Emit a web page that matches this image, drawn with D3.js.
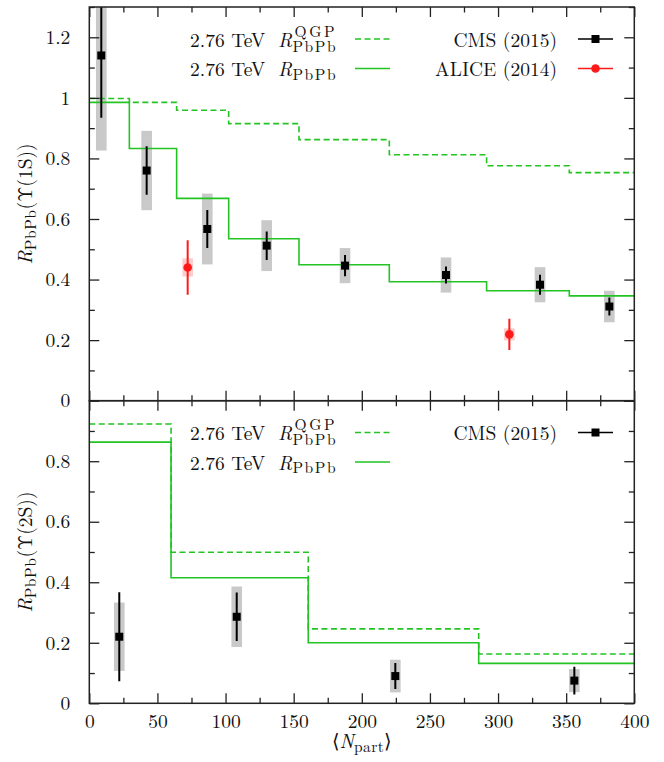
<!DOCTYPE html>
<html>
<head>
<meta charset="utf-8">
<script src="https://cdn.jsdelivr.net/npm/d3@7"></script>
<style>
body { margin: 0; background: #fff; }
</style>
</head>
<body>
<div id="chart"></div>
<script>
// ---- data ----
var xMajor = [0, 50, 100, 150, 200, 250, 300, 350, 400];
var xMinor = [25, 75, 125, 175, 225, 275, 325, 375];

// Upsilon(1S)
var edges1S = [0, 29.4, 64.1, 102.3, 153.9, 220.2, 291.6, 352.3, 400];
var rQGP1S = [0.998, 0.985, 0.959, 0.915, 0.862, 0.812, 0.776, 0.753];
var rAA1S = [0.985, 0.833, 0.668, 0.535, 0.449, 0.393, 0.363, 0.346];

var cmsNpart1S = [8.8, 42.1, 86.6, 130.2, 187.7, 261.8, 330.8, 381.7];
var cmsR1S = [1.140, 0.760, 0.567, 0.512, 0.446, 0.415, 0.383, 0.311];
var cmsStat1S = [0.206, 0.080, 0.063, 0.047, 0.035, 0.028, 0.033, 0.030];
var cmsSys1S = [0.314, 0.131, 0.117, 0.084, 0.058, 0.058, 0.058, 0.052];

var aliceNpart1S = [72.2, 308.3];
var aliceR1S = [0.440, 0.219];
var aliceStat1S = [0.090, 0.052];
var aliceSys1S = [0.030, 0.020];

// Upsilon(2S)
var edges2S = [0, 60, 160.7, 285.8, 400];
var rQGP2S = [0.923, 0.499, 0.246, 0.163];
var rAA2S = [0.863, 0.415, 0.200, 0.132];

var cmsNpart2S = [22.0, 108.2, 224.6, 356.0];
var cmsR2S = [0.220, 0.286, 0.090, 0.075];
var cmsStat2S = [0.147, 0.080, 0.043, 0.046];
var cmsSys2S = [0.113, 0.100, 0.054, 0.038];

var yMajor1S = [0, 0.2, 0.4, 0.6, 0.8, 1, 1.2];
var yMinor1S = [0.1, 0.3, 0.5, 0.7, 0.9, 1.1, 1.3];
var yMajor2S = [0, 0.2, 0.4, 0.6, 0.8, 1];
var yMinor2S = [0.1, 0.3, 0.5, 0.7, 0.9];

// ---- layout ----
var FONT = "'Latin Modern Roman', 'Liberation Serif', 'DejaVu Serif', serif";
var FS = 19.5, SS = 15.5;
var green = "#22c322";
var left = 89.3, right = 634.3;

var svg = d3.select("#chart")
    .append("svg")
        .attr("width", 664)
        .attr("height", 762)
        .style("font-family", FONT);

var x = d3.scaleLinear().domain([0, 400]).range([left, right]);
var yTop = d3.scaleLinear().domain([0, 1.3]).range([400.7, 7]);
var yBot = d3.scaleLinear().domain([0, 1]).range([703.3, 400.7]);

function steps(edges, vals) {
    return edges.map(function(e, i) { return [e, vals[Math.min(i, vals.length - 1)]]; });
}

function txt(g, xx, yy, size) {
    return g.append("text")
        .attr("x", xx).attr("y", yy)
        .style("font-family", FONT)
        .style("font-size", size + "px")
        .style("fill", "#111");
}

function drawPanel(id, y, cfg) {
    var g = svg.append("g").attr("class", id);

    svg.append("clipPath").attr("id", "clip-" + id)
        .append("rect")
        .attr("x", left).attr("y", y.range()[1])
        .attr("width", right - left).attr("height", y.range()[0] - y.range()[1]);

    var plot = g.append("g").attr("clip-path", "url(#clip-" + id + ")");

    // systematic boxes
    cfg.sets.forEach(function(s) {
        plot.append("g").selectAll("rect")
            .data(s.npart)
            .enter()
            .append("rect")
            .attr("x", function(d) { return x(d - 3.9); })
            .attr("width", function(d) { return x(d + 3.9) - x(d - 3.9); })
            .attr("y", function(d, i) { return y(s.r[i] + s.sys[i]); })
            .attr("height", function(d, i) { return y(s.r[i] - s.sys[i]) - y(s.r[i] + s.sys[i]); })
            .attr("fill", s.box);
    });

    var line = d3.line()
        .curve(d3.curveStepAfter)
        .x(function(d) { return x(d[0]); })
        .y(function(d) { return y(d[1]); });

    plot.append("path")
        .datum(steps(cfg.edges, cfg.qgp))
        .attr("fill", "none")
        .attr("stroke", green)
        .attr("stroke-width", 1.6)
        .attr("stroke-dasharray", "6,3.5")
        .attr("d", line);

    plot.append("path")
        .datum(steps(cfg.edges, cfg.raa))
        .attr("fill", "none")
        .attr("stroke", green)
        .attr("stroke-width", 1.6)
        .attr("d", line);

    // stat bars + markers
    cfg.sets.forEach(function(s) {
        var pg = plot.append("g");
        pg.selectAll("line")
            .data(s.npart)
            .enter()
            .append("line")
            .attr("x1", function(d) { return x(d); })
            .attr("x2", function(d) { return x(d); })
            .attr("y1", function(d, i) { return y(s.r[i] + s.stat[i]); })
            .attr("y2", function(d, i) { return y(s.r[i] - s.stat[i]); })
            .attr("stroke", s.color)
            .attr("stroke-width", 2);
        if (s.shape == "square") {
            pg.selectAll("rect")
                .data(s.npart)
                .enter()
                .append("rect")
                .attr("x", function(d) { return x(d) - 4; })
                .attr("y", function(d, i) { return y(s.r[i]) - 4; })
                .attr("width", 8).attr("height", 8)
                .attr("fill", s.color);
        } else {
            pg.selectAll("circle")
                .data(s.npart)
                .enter()
                .append("circle")
                .attr("cx", function(d) { return x(d); })
                .attr("cy", function(d, i) { return y(s.r[i]); })
                .attr("r", 4.3)
                .attr("fill", s.color);
        }
    });

    // ticks (inward, mirrored)
    var y0 = y.range()[0], y1 = y.range()[1];
    function tickAxis(axis, tr, size, vals, labels, pad) {
        var a = g.append("g")
            .attr("transform", tr)
            .call(axis.tickValues(vals).tickSize(size).tickPadding(pad || 3)
                .tickFormat(labels ? d3.format("~g") : ""));
        a.select(".domain").remove();
        a.selectAll("line").attr("stroke", "#222").attr("stroke-width", 1.3);
        a.selectAll("text")
            .style("font-family", FONT)
            .style("font-size", FS + "px")
            .style("fill", "#111");
        return a;
    }
    tickAxis(d3.axisBottom(x), "translate(0," + y0 + ")", -10, xMajor, cfg.xLabels, 10.5);
    tickAxis(d3.axisBottom(x), "translate(0," + y0 + ")", -5.5, xMinor, false);
    tickAxis(d3.axisTop(x), "translate(0," + y1 + ")", -10, xMajor, false);
    tickAxis(d3.axisTop(x), "translate(0," + y1 + ")", -5.5, xMinor, false);
    tickAxis(d3.axisLeft(y), "translate(" + left + ",0)", -10, cfg.yMajor.filter(function(v) { return v <= cfg.yLabelMax; }), true, 19);
    tickAxis(d3.axisLeft(y), "translate(" + left + ",0)", -5.5, cfg.yMinor, false);
    tickAxis(d3.axisRight(y), "translate(" + right + ",0)", -10, cfg.yMajor, false);
    tickAxis(d3.axisRight(y), "translate(" + right + ",0)", -5.5, cfg.yMinor, false);

    g.append("rect")
        .attr("x", left).attr("y", y1)
        .attr("width", right - left).attr("height", y0 - y1)
        .attr("fill", "none")
        .attr("stroke", "#222")
        .attr("stroke-width", 1.5);

    // y axis title
    var yt = txt(g, 0, 0, FS)
        .attr("transform", "translate(32," + ((y0 + y1) / 2) + ") rotate(-90)")
        .attr("text-anchor", "middle");
    yt.append("tspan").style("font-style", "italic").text("R");
    yt.append("tspan").style("font-size", SS + "px").style("letter-spacing", "0.6px").attr("dy", 4).text("PbPb");
    yt.append("tspan").attr("dy", -4).text("(\u03A5(" + cfg.state + "))");

    // legend
    var lg = g.append("g");
    cfg.legend.forEach(function(row) {
        txt(lg, 190, row.base, FS).text("2.76 TeV");
        txt(lg, 278, row.base, FS).style("font-style", "italic").text("R");
        if (row.sup) {
            txt(lg, 294.5, row.base - 10, SS)
                .attr("textLength", 40).attr("lengthAdjust", "spacing").text(row.sup);
        }
        txt(lg, 292.5, row.base + (row.sup ? 5 : 3.5), SS)
            .attr("textLength", 43).attr("lengthAdjust", "spacing").text("PbPb");
        lg.append("line")
            .attr("x1", 355).attr("x2", 390)
            .attr("y1", row.base - 7.5).attr("y2", row.base - 7.5)
            .attr("stroke", green).attr("stroke-width", 1.6)
            .attr("stroke-dasharray", row.dash ? "6,3.5" : null);
    });
    cfg.sets.forEach(function(s, i) {
        var base = cfg.legend[i].base;
        txt(lg, 557, base, FS).attr("text-anchor", "end").text(s.name);
        lg.append("line")
            .attr("x1", 578).attr("x2", 613)
            .attr("y1", base - 7.5).attr("y2", base - 7.5)
            .attr("stroke", s.color).attr("stroke-width", 1.6);
        if (s.shape == "square") {
            lg.append("rect").attr("x", 591.5).attr("y", base - 11.5)
                .attr("width", 8).attr("height", 8).attr("fill", s.color);
        } else {
            lg.append("circle").attr("cx", 595.5).attr("cy", base - 7.5)
                .attr("r", 4.3).attr("fill", s.color);
        }
    });
}

drawPanel("p1s", yTop, {
    state: "1S",
    edges: edges1S, qgp: rQGP1S, raa: rAA1S,
    yMajor: yMajor1S, yMinor: yMinor1S, yLabelMax: 1.2, xLabels: false,
    legend: [{base: 46.5, sup: "QGP", dash: true}, {base: 76, sup: null, dash: false}],
    sets: [
        {name: "CMS (2015)", npart: cmsNpart1S, r: cmsR1S, stat: cmsStat1S, sys: cmsSys1S,
         color: "#000", box: "#c9c9c9", shape: "square"},
        {name: "ALICE (2014)", npart: aliceNpart1S, r: aliceR1S, stat: aliceStat1S, sys: aliceSys1S,
         color: "#ff1a1a", box: "#ffcccc", shape: "circle"}
    ]
});

drawPanel("p2s", yBot, {
    state: "2S",
    edges: edges2S, qgp: rQGP2S, raa: rAA2S,
    yMajor: yMajor2S, yMinor: yMinor2S, yLabelMax: 0.8, xLabels: true,
    legend: [{base: 440, sup: "QGP", dash: true}, {base: 469.5, sup: null, dash: false}],
    sets: [
        {name: "CMS (2015)", npart: cmsNpart2S, r: cmsR2S, stat: cmsStat2S, sys: cmsSys2S,
         color: "#000", box: "#c9c9c9", shape: "square"}
    ]
});

// x axis title
var xt = txt(svg, (left + right) / 2, 748, FS).attr("text-anchor", "middle");
xt.append("tspan").text("\u27E8");
xt.append("tspan").style("font-style", "italic").text("N");
xt.append("tspan").style("font-size", SS + "px").style("letter-spacing", "0.4px").attr("dy", 4).text("part");
xt.append("tspan").attr("dy", -4).text("\u27E9");
</script>
</body>
</html>
